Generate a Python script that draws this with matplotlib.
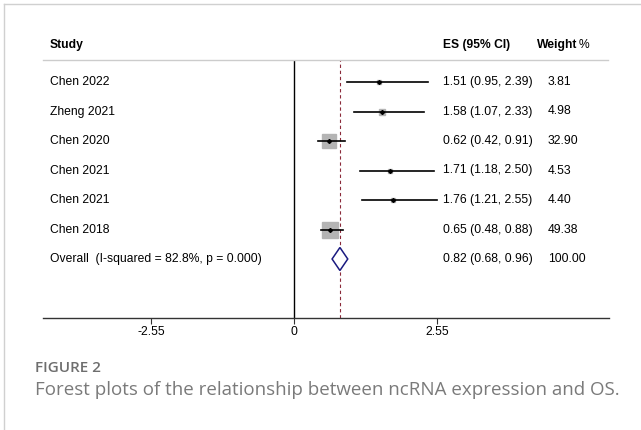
import matplotlib
matplotlib.use("Agg")
import matplotlib.pyplot as plt
import matplotlib.transforms as mtrans
import numpy as np

studies = ["Chen 2022", "Zheng 2021", "Chen 2020", "Chen 2021", "Chen 2021", "Chen 2018"]
es = [1.51, 1.58, 0.62, 1.71, 1.76, 0.65]
lo = [0.95, 1.07, 0.42, 1.18, 1.21, 0.48]
hi = [2.39, 2.33, 0.91, 2.50, 2.55, 0.88]
weights = [3.81, 4.98, 32.90, 4.53, 4.40, 49.38]
overall_label = "Overall  (I-squared = 82.8%, p = 0.000)"
overall = [0.82, 0.68, 0.96]
overall_weight = "100.00"
tick_vals = [-2.55, 0, 2.55]
tick_labels = ["-2.55", "0", "2.55"]

W, H = 641, 430
fig = plt.figure(figsize=(W / 100, H / 100), dpi=100)
plt.rcParams['font.family'] = ['Liberation Sans', 'DejaVu Sans']
FS = 8.7

# axes region in pixels
ax_l, ax_r = 43, 609
ax_t, ax_b = 60, 318
ax = fig.add_axes([ax_l / W, 1 - ax_b / H, (ax_r - ax_l) / W, (ax_b - ax_t) / H])
zero_px, ppu = 294, 56.0
ax.set_xlim((ax_l - zero_px) / ppu, (ax_r - zero_px) / ppu)
row0, rstep = 82, 29.5
ax.set_ylim((ax_b - row0) / rstep, (ax_t - row0) / rstep)

for s in ["top", "left", "right"]:
    ax.spines[s].set_visible(False)
ax.spines["bottom"].set_color("#333333")
ax.spines["bottom"].set_linewidth(1.0)
ax.set_yticks([])
ax.set_xticks(tick_vals)
ax.set_xticklabels(tick_labels, fontsize=FS)
ax.tick_params(axis="x", direction="out", length=4, width=0.8, color="#333333", pad=2)
ax.patch.set_alpha(0)

# reference lines
ax.axvline(0, color="black", lw=1.0)
ax.axvline(overall[0], color="#8b2a3a", lw=0.8, ls=(0, (3, 2.5)))

n = len(studies)
ys = np.arange(n)
max_side_px = 16.0
for i in range(n):
    side = max_side_px * np.sqrt(weights[i] / max(weights)) * 0.72
    ax.plot([es[i]], [ys[i]], marker="s", ms=side, color="#b4b4b4", mec="#b4b4b4", zorder=2)
    ax.plot([lo[i], hi[i]], [ys[i], ys[i]], color="black", lw=1.2, zorder=3)
    ax.plot([es[i]], [ys[i]], marker="D", ms=2.0, color="black", zorder=4)

# diamond
yo = n
dh = 0.39
ax.fill([overall[1], overall[0], overall[2], overall[0], overall[1]],
        [yo, yo - dh, yo, yo + dh, yo], facecolor="white", edgecolor="#1a1a80", lw=1.1, zorder=4)

# text columns
tr = mtrans.blended_transform_factory(fig.transFigure, ax.transData)
x_study, x_es, x_w, x_wh = 50 / W, 443 / W, 548 / W, 537 / W
hy = (45 - row0) / rstep
fig.text(x_study, hy, "Study", transform=tr, fontsize=FS, fontweight="bold", va="center")
fig.text(x_es, hy, "ES (95% CI)", transform=tr, fontsize=FS, fontweight="bold", va="center")
fig.text(x_wh, hy, "Weight", transform=tr, fontsize=FS, fontweight="bold", va="center")
fig.text(589 / W, hy, "%", transform=tr, fontsize=FS, va="center", ha="right")

for i in range(n):
    fig.text(x_study, ys[i], studies[i], transform=tr, fontsize=FS, va="center")
    fig.text(x_es, ys[i], f"{es[i]:.2f} ({lo[i]:.2f}, {hi[i]:.2f})", transform=tr, fontsize=FS, va="center")
    fig.text(x_w, ys[i], f"{weights[i]:.2f}", transform=tr, fontsize=FS, va="center")
fig.text(x_study, yo, overall_label, transform=tr, fontsize=FS, va="center")
fig.text(x_es, yo, f"{overall[0]:.2f} ({overall[1]:.2f}, {overall[2]:.2f})", transform=tr, fontsize=FS, va="center")
fig.text(x_w, yo, overall_weight, transform=tr, fontsize=FS, va="center")

# header separator
fig.add_artist(plt.Line2D([ax_l / W, 608 / W], [1 - 60 / H, 1 - 60 / H], color="#cccccc", lw=1.0))

# outer border (top and left)
fig.add_artist(plt.Line2D([4 / W, 1], [1 - 4 / H, 1 - 4 / H], color="#d0d0d0", lw=1.0))
fig.add_artist(plt.Line2D([4 / W, 4 / W], [0, 1 - 4 / H], color="#d0d0d0", lw=1.0))

# caption
fig.text(35 / W, 1 - 368 / H, "FIGURE 2", fontsize=11, color="#6e6e6e", fontweight="semibold",
         family=["Open Sans", "DejaVu Sans"], va="center")
fig.text(35 / W, 1 - 390 / H, "Forest plots of the relationship between ncRNA expression and OS.",
         fontsize=13.5, color="#7a7a7a", family=["Open Sans", "DejaVu Sans"], va="center")

fig.savefig("out.png", dpi=100)
